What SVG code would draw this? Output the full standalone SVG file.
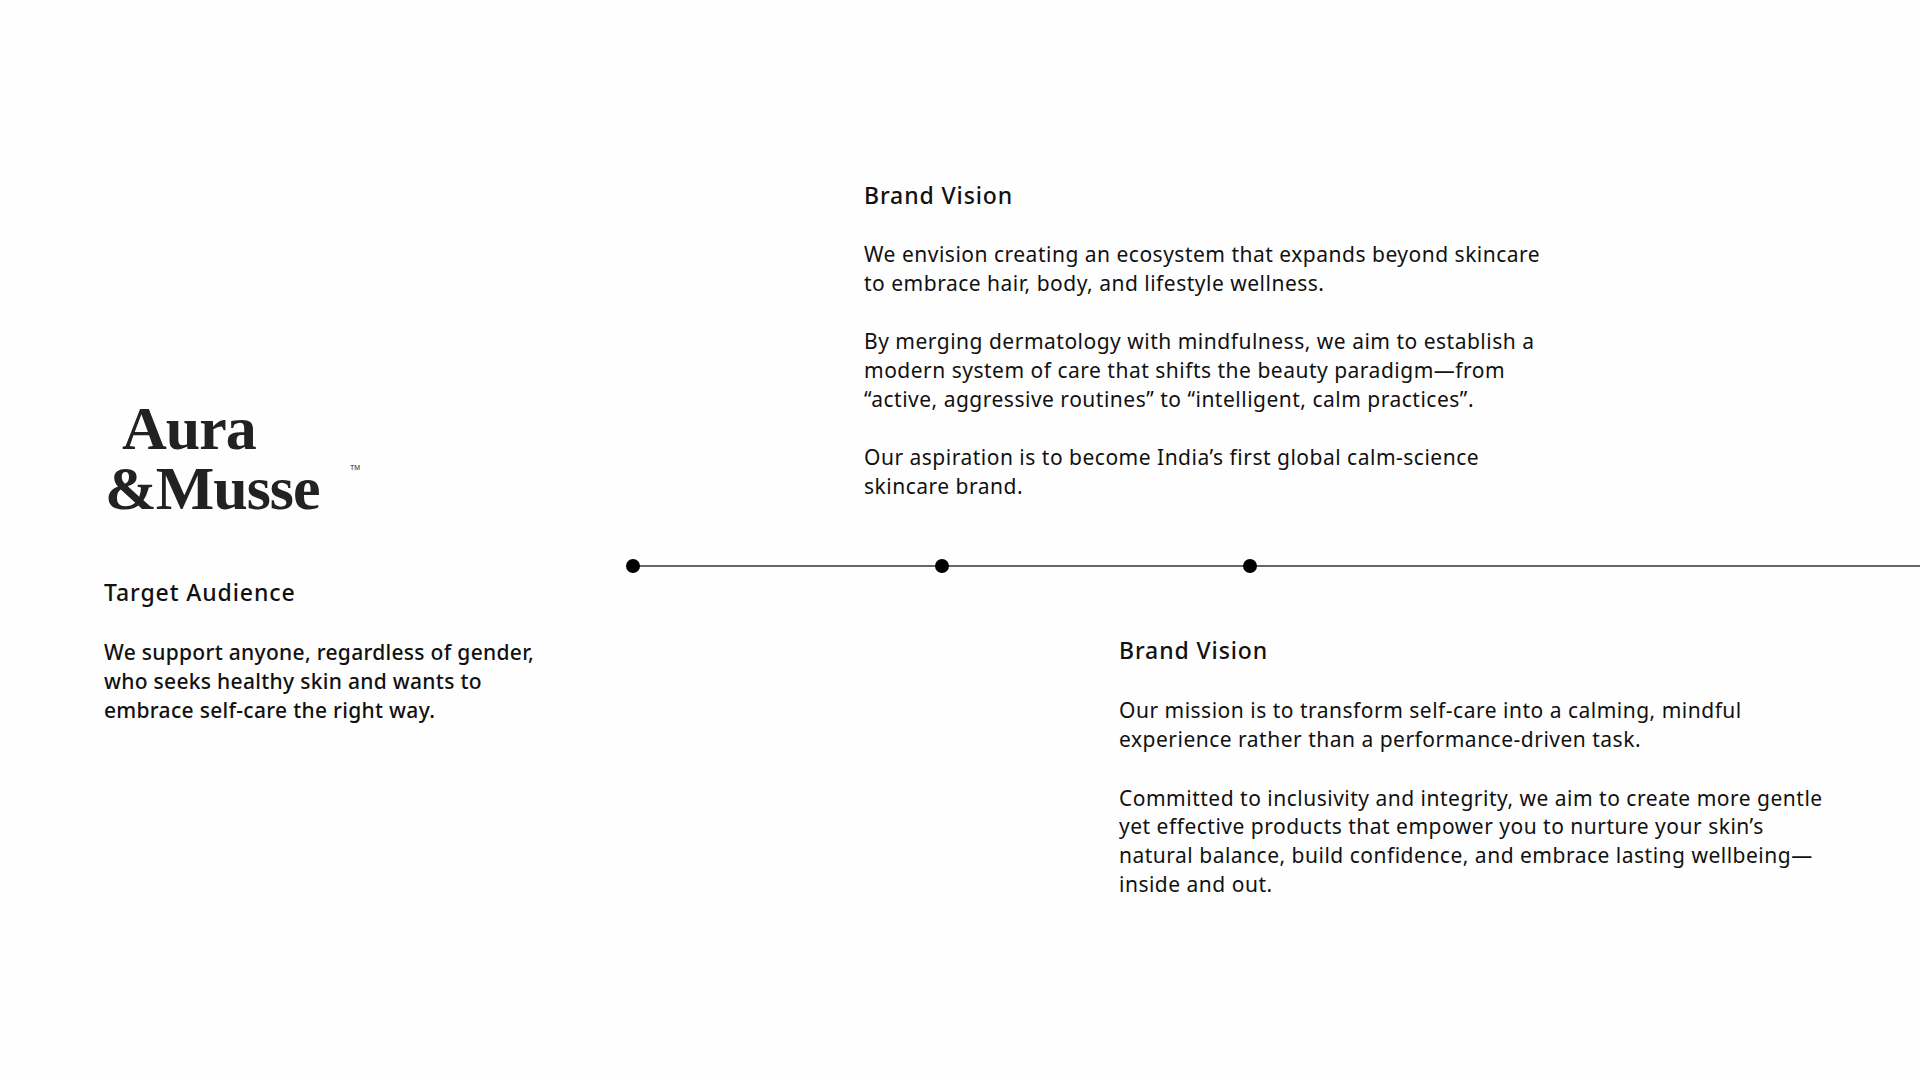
<svg xmlns="http://www.w3.org/2000/svg" width="1920" height="1080" viewBox="0 0 1920 1080">
<style>
.h{font-family:"Noto Sans",sans-serif;font-size:23px;font-weight:500;fill:#111;letter-spacing:0.9px}
.b{font-family:"Noto Sans",sans-serif;font-size:21px;fill:#111;letter-spacing:0.5px}
.m{font-weight:500;letter-spacing:0.3px}
.logo{font-family:"Liberation Serif",serif;font-weight:bold;fill:#222;font-size:62px;letter-spacing:-1px}
</style>
<rect width="1920" height="1080" fill="#fefefe"/>
<g id="logo">
<text class="logo" x="122" y="449">Aura</text>
<text class="logo" x="105" y="509">&amp;Musse</text>
<text x="350" y="470" font-family="Liberation Sans,sans-serif" font-size="7" fill="#222">TM</text>
</g>
<g id="connectors">
<line x1="633" y1="566" x2="1920" y2="566" stroke="#333" stroke-width="1.5"/>
<circle cx="633" cy="566" r="7" fill="#000"/>
<circle cx="942" cy="566" r="7" fill="#000"/>
<circle cx="1250" cy="566" r="7" fill="#000"/>
</g>
<g id="vision">
<text class="h" x="864" y="204">Brand Vision</text>
<text class="b" x="864" y="262">We envision creating an ecosystem that expands beyond skincare</text>
<text class="b" x="864" y="291">to embrace hair, body, and lifestyle wellness.</text>
<text class="b" x="864" y="349">By merging dermatology with mindfulness, we aim to establish a</text>
<text class="b" x="864" y="378">modern system of care that shifts the beauty paradigm—from</text>
<text class="b" x="864" y="407">“active, aggressive routines” to “intelligent, calm practices”.</text>
<text class="b" x="864" y="465">Our aspiration is to become India’s first global calm-science</text>
<text class="b" x="864" y="494">skincare brand.</text>
</g>
<g id="audience">
<text class="h" x="104" y="601">Target Audience</text>
<text class="b m" x="104" y="660">We support anyone, regardless of gender,</text>
<text class="b m" x="104" y="689">who seeks healthy skin and wants to</text>
<text class="b m" x="104" y="718">embrace self-care the right way.</text>
</g>
<g id="mission">
<text class="h" x="1119" y="659">Brand Vision</text>
<text class="b" x="1119" y="718">Our mission is to transform self-care into a calming, mindful</text>
<text class="b" x="1119" y="747">experience rather than a performance-driven task.</text>
<text class="b" x="1119" y="806">Committed to inclusivity and integrity, we aim to create more gentle</text>
<text class="b" x="1119" y="834">yet effective products that empower you to nurture your skin’s</text>
<text class="b" x="1119" y="863">natural balance, build confidence, and embrace lasting wellbeing—</text>
<text class="b" x="1119" y="892">inside and out.</text>
</g>
</svg>
